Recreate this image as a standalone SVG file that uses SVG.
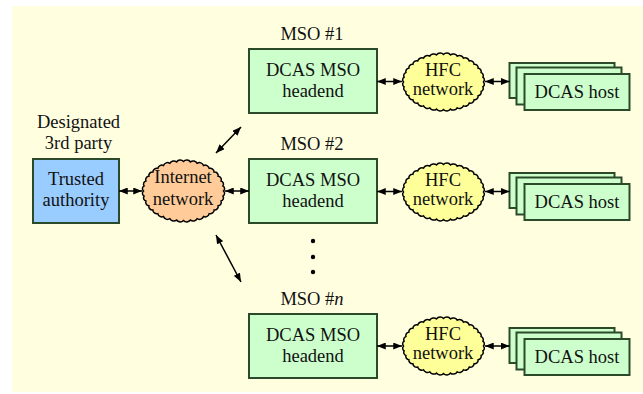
<svg xmlns="http://www.w3.org/2000/svg" width="643" height="394" viewBox="0 0 643 394">
<defs>
<marker id="ah" viewBox="0 0 10 8" refX="10" refY="4" markerWidth="9" markerHeight="7" markerUnits="userSpaceOnUse" orient="auto-start-reverse"><path d="M0,0 L10,4 L0,8 z" fill="#000"/></marker>
<path id="hfcShape" d="M40,0 A3.1,3.1 0 0 1 39.39,4.77 A3.2,3.2 0 0 1 37.59,9.41 A3.4,3.4 0 0 1 34.64,13.75 A3.6,3.6 0 0 1 30.64,17.68 A3.9,3.9 0 0 1 25.71,21.07 A4.1,4.1 0 0 1 20,23.82 A4.3,4.3 0 0 1 13.68,25.84 A4.5,4.5 0 0 1 6.94,27.08 A4.5,4.5 0 0 1 0,27.5 A4.5,4.5 0 0 1 -6.94,27.08 A4.5,4.5 0 0 1 -13.68,25.84 A4.3,4.3 0 0 1 -20,23.82 A4.1,4.1 0 0 1 -25.71,21.07 A3.9,3.9 0 0 1 -30.64,17.68 A3.6,3.6 0 0 1 -34.64,13.75 A3.4,3.4 0 0 1 -37.59,9.41 A3.2,3.2 0 0 1 -39.39,4.77 A3.1,3.1 0 0 1 -40,0 A3.1,3.1 0 0 1 -39.39,-4.77 A3.2,3.2 0 0 1 -37.59,-9.41 A3.4,3.4 0 0 1 -34.64,-13.75 A3.6,3.6 0 0 1 -30.64,-17.68 A3.9,3.9 0 0 1 -25.71,-21.07 A4.1,4.1 0 0 1 -20,-23.82 A4.3,4.3 0 0 1 -13.68,-25.84 A4.5,4.5 0 0 1 -6.94,-27.08 A4.5,4.5 0 0 1 0,-27.5 A4.5,4.5 0 0 1 6.94,-27.08 A4.5,4.5 0 0 1 13.68,-25.84 A4.3,4.3 0 0 1 20,-23.82 A4.1,4.1 0 0 1 25.71,-21.07 A3.9,3.9 0 0 1 30.64,-17.68 A3.6,3.6 0 0 1 34.64,-13.75 A3.4,3.4 0 0 1 37.59,-9.41 A3.2,3.2 0 0 1 39.39,-4.77 A3.1,3.1 0 0 1 40,0 Z"/>
<path id="inetShape" d="M40,0 A3.1,3.1 0 0 1 39.39,5.12 A3.2,3.2 0 0 1 37.59,10.09 A3.4,3.4 0 0 1 34.64,14.75 A3.6,3.6 0 0 1 30.64,18.96 A3.9,3.9 0 0 1 25.71,22.6 A4.1,4.1 0 0 1 20,25.55 A4.3,4.3 0 0 1 13.68,27.72 A4.5,4.5 0 0 1 6.94,29.05 A4.5,4.5 0 0 1 0,29.5 A4.5,4.5 0 0 1 -6.94,29.05 A4.5,4.5 0 0 1 -13.68,27.72 A4.3,4.3 0 0 1 -20,25.55 A4.1,4.1 0 0 1 -25.71,22.6 A3.9,3.9 0 0 1 -30.64,18.96 A3.6,3.6 0 0 1 -34.64,14.75 A3.4,3.4 0 0 1 -37.59,10.09 A3.2,3.2 0 0 1 -39.39,5.12 A3.1,3.1 0 0 1 -40,0 A3.1,3.1 0 0 1 -39.39,-5.12 A3.2,3.2 0 0 1 -37.59,-10.09 A3.4,3.4 0 0 1 -34.64,-14.75 A3.6,3.6 0 0 1 -30.64,-18.96 A3.9,3.9 0 0 1 -25.71,-22.6 A4.1,4.1 0 0 1 -20,-25.55 A4.3,4.3 0 0 1 -13.68,-27.72 A4.5,4.5 0 0 1 -6.94,-29.05 A4.5,4.5 0 0 1 0,-29.5 A4.5,4.5 0 0 1 6.94,-29.05 A4.5,4.5 0 0 1 13.68,-27.72 A4.3,4.3 0 0 1 20,-25.55 A4.1,4.1 0 0 1 25.71,-22.6 A3.9,3.9 0 0 1 30.64,-18.96 A3.6,3.6 0 0 1 34.64,-14.75 A3.4,3.4 0 0 1 37.59,-10.09 A3.2,3.2 0 0 1 39.39,-5.12 A3.1,3.1 0 0 1 40,0 Z"/>
</defs>
<style>
text{font-family:"Liberation Serif","Times New Roman","DejaVu Serif",serif;font-size:18.5px;fill:#111;text-anchor:middle}
.box{fill:#ccffcc;stroke:#2a4a2a;stroke-width:2}
.ta{fill:#99ccff;stroke:#2a4a2a;stroke-width:2}
.cloud{stroke:#000;stroke-width:1.5;stroke-linejoin:miter;stroke-miterlimit:6}
.inet{fill:#ffcc99}
.hfc{fill:#ffff99}
#connectors line{stroke:#000;stroke-width:1.5;marker-start:url(#ah);marker-end:url(#ah)}
</style>
<rect x="12" y="6" width="631" height="386" fill="#ffffe0"/>

<g id="designated-label"><text x="78.5" y="128">Designated</text><text x="78.5" y="149">3rd party</text></g>
<g id="trusted-authority"><rect class="ta" x="33" y="159" width="86" height="64"/><text x="76" y="185">Trusted</text><text x="76" y="206">authority</text></g>

<g id="internet">
<use href="#inetShape" class="cloud inet" x="183.5" y="191"/>
<text x="183" y="183">Internet</text><text x="183" y="205">network</text>
</g>

<g id="mso1-label"><text x="312" y="40">MSO #1</text></g>
<g id="mso1-headend"><rect class="box" x="249" y="49" width="128" height="64"/><text x="313" y="76">DCAS MSO</text><text x="313" y="97">headend</text></g>
<g id="hfc1">
<use href="#hfcShape" class="cloud hfc" x="443.5" y="82"/>
<text x="443" y="75.5">HFC</text><text x="443" y="95">network</text>
</g>
<g id="host1">
<rect class="box" x="509.5" y="63" width="105" height="35"/>
<rect class="box" x="516.5" y="67.5" width="105" height="37"/>
<rect class="box" x="524.5" y="74" width="105" height="36"/>
<text x="577" y="98">DCAS host</text>
</g>

<g id="mso2-label"><text x="312" y="150">MSO #2</text></g>
<g id="mso2-headend"><rect class="box" x="249" y="159" width="128" height="64"/><text x="313" y="186">DCAS MSO</text><text x="313" y="207">headend</text></g>
<g id="hfc2">
<use href="#hfcShape" class="cloud hfc" x="443.5" y="192"/>
<text x="443" y="185.5">HFC</text><text x="443" y="205">network</text>
</g>
<g id="host2">
<rect class="box" x="509.5" y="173" width="105" height="35"/>
<rect class="box" x="516.5" y="177.5" width="105" height="37"/>
<rect class="box" x="524.5" y="184" width="105" height="36"/>
<text x="577" y="208">DCAS host</text>
</g>

<g id="ellipsis-dots" fill="#000"><circle cx="313" cy="241" r="2.2"/><circle cx="313" cy="257" r="2.2"/><circle cx="313" cy="272" r="2.2"/></g>

<g id="mson-label"><text x="312" y="305">MSO #<tspan font-style="italic">n</tspan></text></g>
<g id="mson-headend"><rect class="box" x="249" y="314" width="128" height="64"/><text x="313" y="341">DCAS MSO</text><text x="313" y="362">headend</text></g>
<g id="hfcn">
<use href="#hfcShape" class="cloud hfc" x="443.5" y="346"/>
<text x="443" y="339.5">HFC</text><text x="443" y="359">network</text>
</g>
<g id="hostn">
<rect class="box" x="509.5" y="328" width="105" height="35"/>
<rect class="box" x="516.5" y="332.5" width="105" height="37"/>
<rect class="box" x="524.5" y="339" width="105" height="36"/>
<text x="577" y="363">DCAS host</text>
</g>

<g id="connectors">
<line x1="119" y1="191" x2="142" y2="191"/>
<line x1="225" y1="191" x2="249" y2="191"/>
<line x1="216" y1="153" x2="241" y2="127"/>
<line x1="216" y1="235" x2="241" y2="282"/>
<line x1="377" y1="81.5" x2="402" y2="81.5"/>
<line x1="485" y1="81.5" x2="509.5" y2="81.5"/>
<line x1="377" y1="191.5" x2="402" y2="191.5"/>
<line x1="485" y1="191.5" x2="509.5" y2="191.5"/>
<line x1="377" y1="346" x2="402" y2="346"/>
<line x1="485" y1="346" x2="509.5" y2="346"/>
</g>
</svg>
